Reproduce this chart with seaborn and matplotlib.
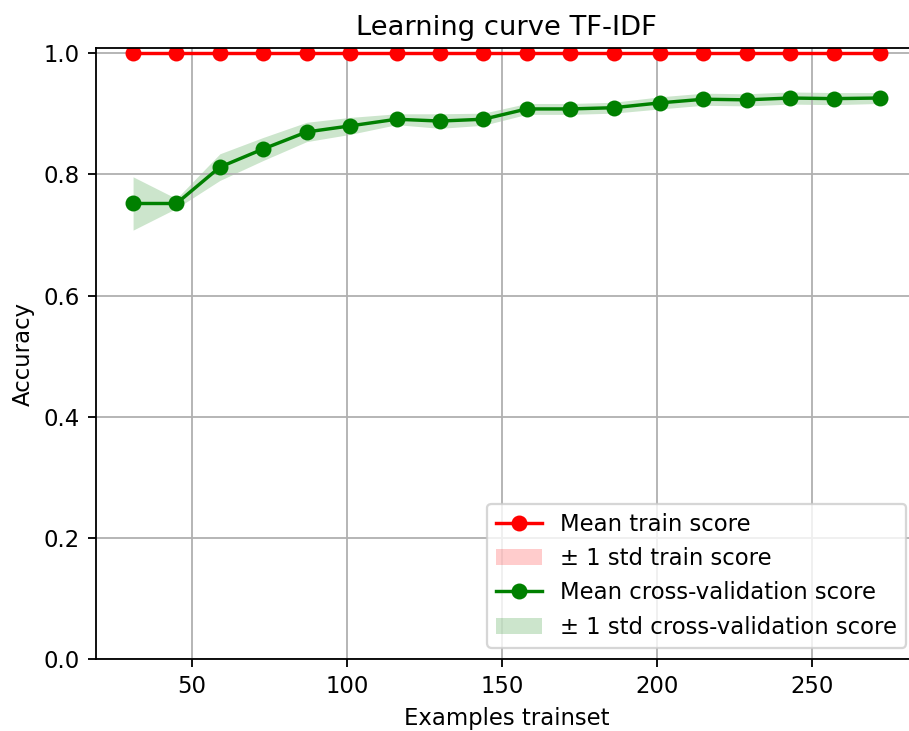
import numpy as np
import pandas as pd
import matplotlib
matplotlib.use('Agg')
import matplotlib.pyplot as plt
import seaborn as sns

# Learning curve values
train_sizes = [31, 45, 59, 73, 87, 101, 116, 130, 144, 158, 172, 186, 201, 215, 229, 243, 257, 272]
train_mean = [1.0] * 18
train_std = [0.0] * 18
cv_mean = [0.752, 0.752, 0.812, 0.842, 0.870, 0.880, 0.891, 0.888, 0.891,
           0.908, 0.908, 0.910, 0.918, 0.924, 0.923, 0.926, 0.925, 0.926]
cv_std = [0.044, 0.008, 0.022, 0.019, 0.016, 0.014, 0.009, 0.012, 0.010,
          0.009, 0.009, 0.009, 0.010, 0.010, 0.010, 0.010, 0.010, 0.009]

df = pd.DataFrame({
    'size': train_sizes,
    'train_mean': train_mean,
    'train_std': train_std,
    'cv_mean': cv_mean,
    'cv_std': cv_std,
})

plt.rcParams.update({'font.size': 10, 'font.family': ['DejaVu Sans']})

DPI = 164
fig = plt.figure(figsize=(909 / DPI, 731 / DPI), dpi=DPI)
ax = fig.add_axes([0.1053, 0.0981, 0.904, 0.8358])
ax.grid(True)

sns.lineplot(data=df, x='size', y='train_mean', color='r', marker='o',
             markersize=6, markeredgewidth=1, markeredgecolor='r',
             label='Mean train score', ax=ax)
ax.fill_between(df['size'], df['train_mean'] - df['train_std'],
                df['train_mean'] + df['train_std'], alpha=0.2, color='r',
                linewidth=0, label='± 1 std train score')
sns.lineplot(data=df, x='size', y='cv_mean', color='g', marker='o',
             markersize=6, markeredgewidth=1, markeredgecolor='g',
             label='Mean cross-validation score', ax=ax)
ax.fill_between(df['size'], df['cv_mean'] - df['cv_std'],
                df['cv_mean'] + df['cv_std'], alpha=0.2, color='g',
                linewidth=0, label='± 1 std cross-validation score')

ax.set_ylim(0, 1.008)
ax.set_title('Learning curve TF-IDF')
ax.set_xlabel('Examples trainset')
ax.set_ylabel('Accuracy')
ax.legend(loc='lower right')

fig.savefig('out.png', dpi=DPI)
